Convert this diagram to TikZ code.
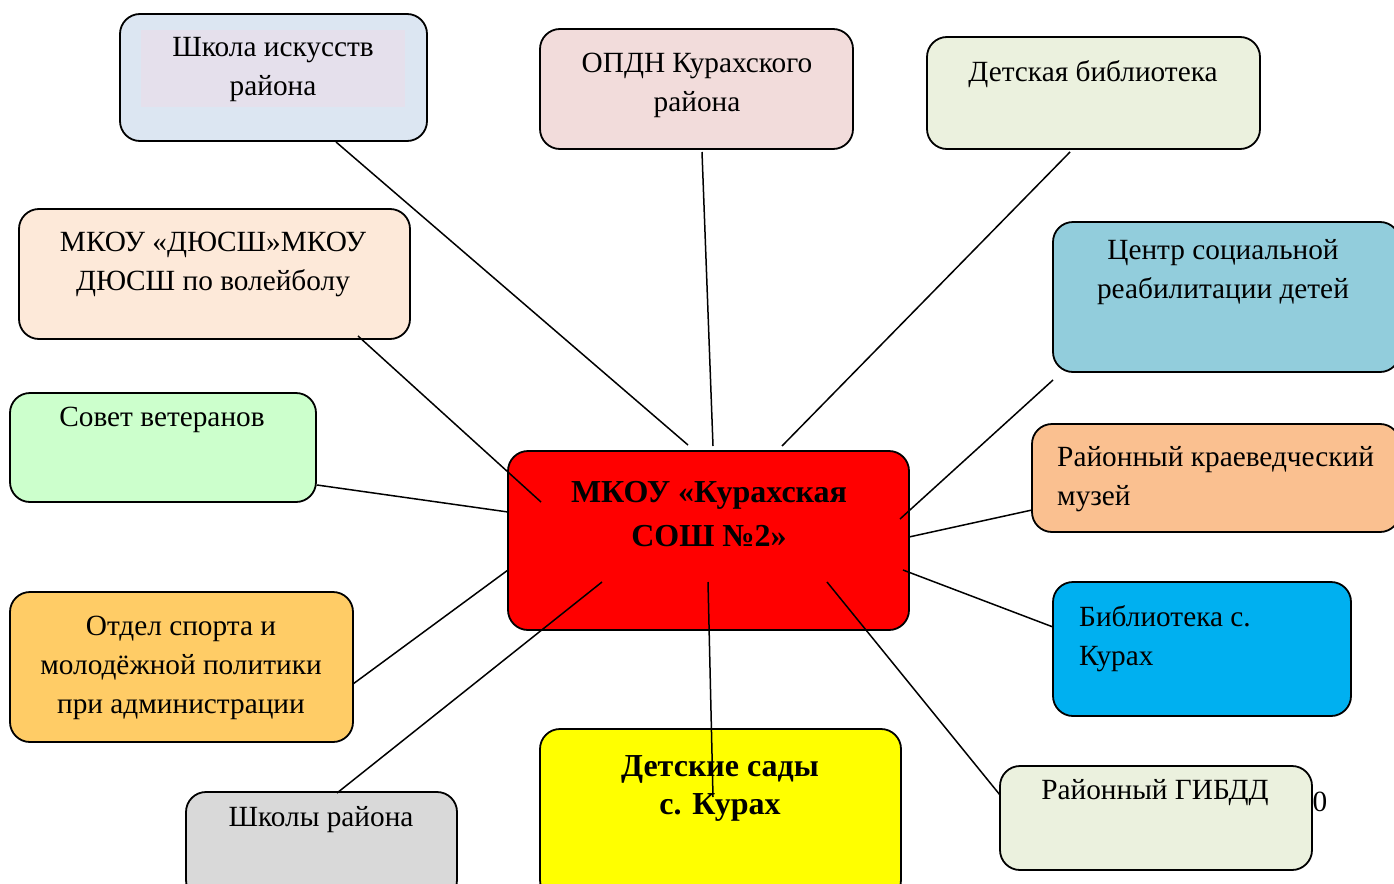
\documentclass[tikz,border=0pt]{standalone}
\usepackage{fontspec}
\setmainfont{Liberation Serif}
\definecolor{cSchool}{HTML}{DCE6F2}
\definecolor{cSchoolIn}{HTML}{E5E0EC}
\definecolor{cOpdn}{HTML}{F2DCDB}
\definecolor{cLight}{HTML}{EBF1DE}
\definecolor{cCenter}{HTML}{92CDDC}
\definecolor{cMuseum}{HTML}{FAC090}
\definecolor{cLib}{HTML}{00B0F0}
\definecolor{cYellow}{HTML}{FFFF00}
\definecolor{cGray}{HTML}{D9D9D9}
\definecolor{cSport}{HTML}{FFCC66}
\definecolor{cVet}{HTML}{CCFFCC}
\definecolor{cDus}{HTML}{FDE9D9}
\definecolor{cRed}{HTML}{FF0000}
\begin{document}
\begin{tikzpicture}[x=1pt,y=-1pt,
  box/.style={draw=black, line width=1.8pt, rounded corners=20pt, inner sep=0pt},
  txt/.style={font=\fontsize{29.3}{39}\selectfont, align=center, inner sep=0pt},
  btxt/.style={font=\fontsize{32}{44}\selectfont\bfseries, align=center, inner sep=0pt},
  link/.style={line width=1.5pt, black}]
\useasboundingbox[fill=white] (0,0) rectangle (1394,883);
% boxes
\path[box, fill=cSchool] (120,14) rectangle (427,141);
\node[fill=cSchoolIn, inner sep=0pt, minimum width=264pt, minimum height=77pt] (inner) at (273,68.5) {};
\path[box, fill=cOpdn] (540,29) rectangle (853,149);
\path[box, fill=cLight] (927,37) rectangle (1260,149);
\path[box, fill=cCenter] (1053,222) rectangle (1400,372);
\path[box, fill=cMuseum] (1032,424) rectangle (1400,532);
\path[box, fill=cLib] (1053,582) rectangle (1351,716);
\path[box, fill=cLight] (1000,766) rectangle (1312,870);
\path[box, fill=cYellow] (540,729) rectangle (901,900);
\path[box, fill=cGray] (186,792) rectangle (457,900);
\path[box, fill=cSport] (10,592) rectangle (353,742);
\path[box, fill=cVet] (10,393) rectangle (316,502);
\path[box, fill=cDus] (19,209) rectangle (410,339);
\path[box, fill=cRed] (508,451) rectangle (909,630);
% texts
\node[txt] (tSchool) at (273,70) {Школа искусств\\района};
\node[txt] (tOpdn) at (697,85) {ОПДН Курахского\\района};
\node[txt] (tKidLib) at (1093,74) {Детская библиотека};
\node[txt] (tCenter) at (1223,272) {Центр социальной\\реабилитации детей};
\node[txt, align=left, anchor=west] (tMuseum) at (1057,479) {Районный краеведческий\\музей};
\node[txt, align=left, anchor=west] (tLib) at (1079,639) {Библиотека с.\\Курах};
\node[txt] (tGibdd) at (1155,793) {Районный ГИБДД};
\node[txt] (tZero) at (1320,802) {0};
\node[btxt, font=\fontsize{32}{38}\selectfont\bfseries] (tKinder) at (720,788) {Детские сады\\с. Курах};
\node[txt] (tSchools) at (321,820) {Школы района};
\node[txt] (tSport) at (181,668) {Отдел спорта и\\молодёжной политики\\при администрации};
\node[txt] (tVet) at (162,420) {Совет ветеранов};
\node[txt] (tDus) at (213,264) {МКОУ «ДЮСШ»МКОУ\\ДЮСШ по волейболу};
\node[btxt] (tMain) at (709,514) {МКОУ «Курахская\\СОШ №2»};
% connector end points
\coordinate (a1) at (336,142); \coordinate (b1) at (688,445);
\coordinate (a2) at (702,152); \coordinate (b2) at (713,446);
\coordinate (a3) at (1070,152); \coordinate (b3) at (782,446);
\coordinate (a4) at (1053,380); \coordinate (b4) at (900,519);
\coordinate (a5) at (1032,510); \coordinate (b5) at (909,537);
\coordinate (a6) at (1053,627); \coordinate (b6) at (903,570);
\coordinate (a7) at (1000,795); \coordinate (b7) at (827,582);
\coordinate (a8) at (713,797); \coordinate (b8) at (708,582);
\coordinate (a9) at (337,793); \coordinate (b9) at (602,582);
\coordinate (a10) at (353,684); \coordinate (b10) at (508,570);
\coordinate (a11) at (317,485); \coordinate (b11) at (508,512);
\coordinate (a12) at (358,336); \coordinate (b12) at (541,502);
\foreach \i in {1,...,12} {\draw[link] (a\i) -- (b\i);}
\end{tikzpicture}
\end{document}
